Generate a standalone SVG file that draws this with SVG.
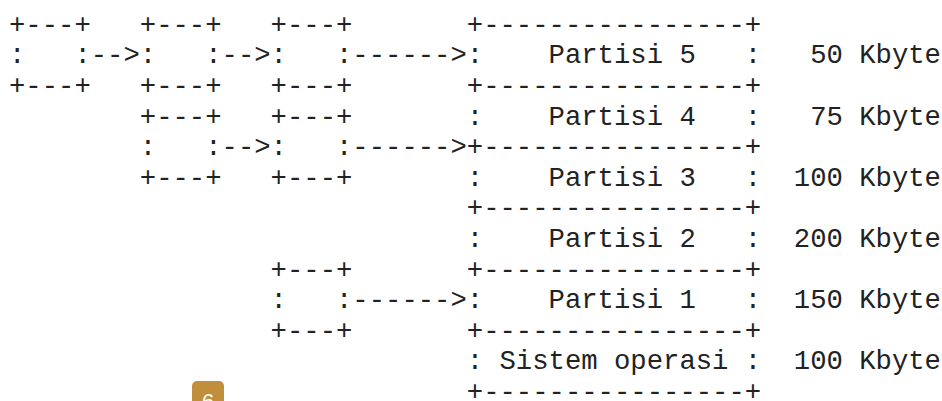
<svg xmlns="http://www.w3.org/2000/svg" width="942" height="401" viewBox="0 0 942 401">
<style>
text{font-family:"Liberation Mono","Courier New",monospace;font-size:27.25px;fill:#222;white-space:pre}
.badge{fill:#C18F3B}
.badgetxt{font-family:"Liberation Sans",Arial,sans-serif;font-size:22px;fill:#fff}
</style>
<rect width="942" height="401" fill="#fff"/>
<g id="boxA">
<text x="9" y="32.7" xml:space="preserve">+---+</text>
<text x="9" y="63.3" xml:space="preserve">:   :</text>
<text x="9" y="93.9" xml:space="preserve">+---+</text>
</g>
<g id="boxB1">
<text x="139.8" y="32.7" xml:space="preserve">+---+</text>
<text x="139.8" y="63.3" xml:space="preserve">:   :</text>
<text x="139.8" y="93.9" xml:space="preserve">+---+</text>
</g>
<g id="boxC1">
<text x="270.6" y="32.7" xml:space="preserve">+---+</text>
<text x="270.6" y="63.3" xml:space="preserve">:   :</text>
<text x="270.6" y="93.9" xml:space="preserve">+---+</text>
</g>
<g id="boxB2">
<text x="139.8" y="124.5" xml:space="preserve">+---+</text>
<text x="139.8" y="155.1" xml:space="preserve">:   :</text>
<text x="139.8" y="185.7" xml:space="preserve">+---+</text>
</g>
<g id="boxC2">
<text x="270.6" y="124.5" xml:space="preserve">+---+</text>
<text x="270.6" y="155.1" xml:space="preserve">:   :</text>
<text x="270.6" y="185.7" xml:space="preserve">+---+</text>
</g>
<g id="boxD">
<text x="270.6" y="277.5" xml:space="preserve">+---+</text>
<text x="270.6" y="308.1" xml:space="preserve">:   :</text>
<text x="270.6" y="338.7" xml:space="preserve">+---+</text>
</g>
<g id="connectors">
<text x="90.75" y="63.3" xml:space="preserve">--&gt;</text>
<text x="221.55" y="63.3" xml:space="preserve">--&gt;</text>
<text x="352.35" y="63.3" xml:space="preserve">------&gt;</text>
<text x="221.55" y="155.1" xml:space="preserve">--&gt;</text>
<text x="352.35" y="155.1" xml:space="preserve">------&gt;</text>
<text x="352.35" y="308.1" xml:space="preserve">------&gt;</text>
</g>
<g id="memory">
<text x="466.8" y="32.7" xml:space="preserve">+----------------+</text>
<g id="partisi5"><text x="466.8" y="63.3" xml:space="preserve">:    Partisi 5   :</text></g>
<text x="466.8" y="93.9" xml:space="preserve">+----------------+</text>
<g id="partisi4"><text x="466.8" y="124.5" xml:space="preserve">:    Partisi 4   :</text></g>
<text x="466.8" y="155.1" xml:space="preserve">+----------------+</text>
<g id="partisi3"><text x="466.8" y="185.7" xml:space="preserve">:    Partisi 3   :</text></g>
<text x="466.8" y="216.3" xml:space="preserve">+----------------+</text>
<g id="partisi2"><text x="466.8" y="246.9" xml:space="preserve">:    Partisi 2   :</text></g>
<text x="466.8" y="277.5" xml:space="preserve">+----------------+</text>
<g id="partisi1"><text x="466.8" y="308.1" xml:space="preserve">:    Partisi 1   :</text></g>
<text x="466.8" y="338.7" xml:space="preserve">+----------------+</text>
<g id="sistem"><text x="466.8" y="369.3" xml:space="preserve">: Sistem operasi :</text></g>
<text x="466.8" y="399.9" xml:space="preserve">+----------------+</text>
</g>
<g id="sizes">
<text x="810.15" y="63.3" xml:space="preserve">50 Kbyte</text>
<text x="810.15" y="124.5" xml:space="preserve">75 Kbyte</text>
<text x="793.8" y="185.7" xml:space="preserve">100 Kbyte</text>
<text x="793.8" y="246.9" xml:space="preserve">200 Kbyte</text>
<text x="793.8" y="308.1" xml:space="preserve">150 Kbyte</text>
<text x="793.8" y="369.3" xml:space="preserve">100 Kbyte</text>
</g>
<g id="pagebadge">
<rect class="badge" x="192" y="381" width="32" height="28" rx="5"/>
<text class="badgetxt" x="208" y="409" text-anchor="middle">6</text>
</g>
</svg>
